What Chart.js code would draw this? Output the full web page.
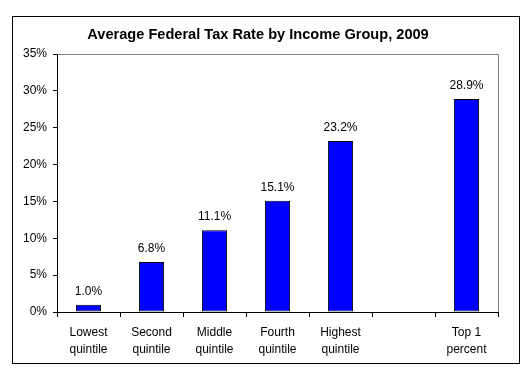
<!DOCTYPE html>
<html><head><meta charset="utf-8">
<script src="https://cdn.jsdelivr.net/npm/chart.js@4.4.1/dist/chart.umd.min.js"></script>
<style>html,body{margin:0;padding:0;background:#fff}#wrap{width:531px;height:377px;position:relative}</style>
</head><body><div id="wrap"><canvas id="c" width="531" height="377"></canvas></div>
<script>
const chartTitle = "Average Federal Tax Rate by Income Group, 2009";
const categories = [["Lowest","quintile"],["Second","quintile"],["Middle","quintile"],["Fourth","quintile"],["Highest","quintile"],"",["Top 1","percent"]];
const taxRates = [1.0, 6.8, 11.1, 15.1, 23.2, null, 28.9];
const yMin = 0, yMax = 35, yStep = 5;

const FONT = "'Liberation Sans', Arial, sans-serif";

const framePlugin = {
  id: 'frame',
  beforeDraw(chart) {
    const ctx = chart.ctx;
    ctx.save();
    ctx.fillStyle = '#fff';
    ctx.fillRect(0, 0, chart.width, chart.height);
    ctx.strokeStyle = '#000';
    ctx.lineWidth = 1;
    ctx.strokeRect(12.5, 16.5, 507, 347);
    ctx.restore();
  },
  afterDraw(chart) {
    const {ctx, chartArea: a} = chart;
    ctx.save();
    ctx.strokeStyle = '#808080';
    ctx.lineWidth = 1;
    ctx.beginPath();
    ctx.moveTo(Math.round(a.left) + 0.5, Math.round(a.top) + 0.5);
    ctx.lineTo(Math.round(a.right) + 0.5, Math.round(a.top) + 0.5);
    ctx.lineTo(Math.round(a.right) + 0.5, Math.round(a.bottom));
    ctx.stroke();
    ctx.restore();
  }
};

const labelPlugin = {
  id: 'valueLabels',
  afterDatasetsDraw(chart) {
    const ctx = chart.ctx;
    const meta = chart.getDatasetMeta(0);
    ctx.save();
    ctx.font = '12px ' + FONT;
    ctx.fillStyle = '#000';
    ctx.textAlign = 'center';
    ctx.textBaseline = 'middle';
    meta.data.forEach((bar, i) => {
      const v = taxRates[i];
      if (v == null) return;
      ctx.fillText(v.toFixed(1) + '%', bar.x, bar.y - 13);
    });
    ctx.restore();
  }
};

new Chart(document.getElementById('c'), {
  type: 'bar',
  data: {
    labels: categories,
    datasets: [{
      data: taxRates,
      backgroundColor: '#0000FF',
      borderColor: '#000',
      borderWidth: 1,
      borderSkipped: false,
      categoryPercentage: 1,
      barPercentage: 0.4
    }]
  },
  options: {
    responsive: false,
    animation: false,
    devicePixelRatio: 1,
    layout: { padding: { left: 18, right: 33, top: 20, bottom: 0 } },
    plugins: {
      legend: { display: false },
      tooltip: { enabled: false },
      title: {
        display: true,
        text: chartTitle,
        color: '#000',
        font: { family: FONT, size: 14.6, weight: 'bold', lineHeight: 1.2 },
        padding: { top: 6, bottom: 10.5 }
      }
    },
    scales: {
      x: {
        offset: true,
        grid: { offset: true, drawOnChartArea: false, drawTicks: true, tickLength: 5, color: '#000' },
        border: { display: true, color: '#000', width: 1 },
        ticks: { color: '#000', font: { family: FONT, size: 12, lineHeight: 1.4 }, padding: 7, maxRotation: 0, autoSkip: false },
        afterFit(s) { s.height = 65; }
      },
      y: {
        min: yMin, max: yMax,
        grid: { drawOnChartArea: false, drawTicks: true, tickLength: 4, color: '#000' },
        border: { display: true, color: '#000', width: 1 },
        ticks: { stepSize: yStep, color: '#000', padding: 6, font: { family: FONT, size: 12 }, callback: v => v + '%' },
        afterFit(s) { s.width = 39; }
      }
    }
  },
  plugins: [framePlugin, labelPlugin]
});
</script></body></html>
